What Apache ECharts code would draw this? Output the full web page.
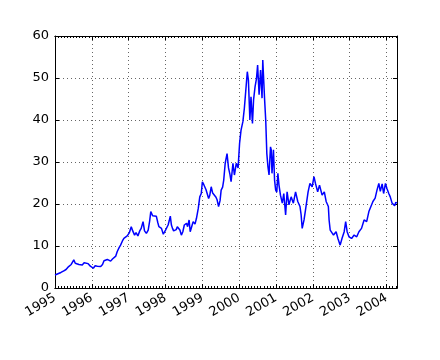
<!DOCTYPE html>
<html>
<head>
<meta charset="utf-8">
<script src="https://cdn.jsdelivr.net/npm/echarts@6/dist/echarts.min.js"></script>
<style>
html,body{margin:0;padding:0;background:#fff;}
#chart{width:440px;height:360px;}
</style>
</head>
<body>
<div id="chart"></div>
<script>
// Dates as decimal years
var years = [
1995.00,1995.08,1995.16,1995.24,1995.30,1995.37,1995.44,1995.51,1995.55,1995.60,1995.65,1995.69,1995.74,1995.79,1995.83,1995.90,1995.96,
1996.04,1996.09,1996.15,1996.20,1996.24,1996.29,1996.33,1996.38,1996.42,1996.47,1996.51,1996.56,1996.60,1996.65,1996.69,1996.74,1996.78,1996.83,1996.87,1996.92,1996.96,
1997.02,1997.07,1997.11,1997.16,1997.20,1997.25,1997.30,1997.34,1997.39,1997.43,1997.48,1997.53,1997.57,1997.60,1997.65,1997.69,1997.75,1997.79,1997.82,1997.86,1997.89,1997.94,
1998.00,1998.04,1998.07,1998.10,1998.13,1998.16,1998.19,1998.22,1998.25,1998.29,1998.32,1998.35,1998.39,1998.43,1998.47,1998.51,1998.57,1998.60,1998.64,1998.67,1998.71,1998.75,1998.80,1998.84,1998.89,1998.93,1998.97,
1999.00,1999.04,1999.07,1999.10,1999.13,1999.17,1999.20,1999.24,1999.28,1999.33,1999.37,1999.40,1999.44,1999.48,1999.51,1999.55,1999.58,1999.62,1999.67,1999.71,1999.75,1999.78,1999.83,1999.87,1999.92,1999.97,
2000.01,2000.05,2000.10,2000.14,2000.17,2000.22,2000.25,2000.29,2000.32,2000.36,2000.39,2000.43,2000.47,2000.50,2000.54,2000.58,2000.62,2000.64,2000.67,2000.69,2000.72,2000.75,2000.78,2000.81,2000.85,2000.87,2000.89,2000.93,2000.96,2000.99,
2001.02,2001.05,2001.08,2001.12,2001.17,2001.21,2001.26,2001.30,2001.35,2001.41,2001.47,2001.53,2001.59,2001.65,2001.68,2001.71,2001.76,2001.80,2001.87,2001.92,2001.98,
2002.03,2002.07,2002.13,2002.18,2002.25,2002.31,2002.36,2002.42,2002.44,2002.47,2002.52,2002.56,2002.63,2002.68,2002.74,2002.79,2002.85,2002.89,2002.93,2002.98,
2003.05,2003.12,2003.19,2003.25,2003.32,2003.39,2003.46,2003.52,2003.57,2003.63,2003.69,2003.74,2003.79,2003.83,2003.88,2003.92,2003.97,
2004.01,2004.06,2004.10,2004.15,2004.18,2004.22,2004.25,2004.28
];
var prices = [
3.1,3.4,3.7,4.1,4.4,5.1,5.6,6.7,5.9,6.1,5.6,5.9,5.5,6.0,6.4,5.8,5.2,
4.7,5.3,5.2,4.8,5.1,5.6,6.5,6.9,6.8,6.5,6.4,6.9,7.3,7.6,8.7,9.6,10.2,11.2,11.8,12.0,12.4,
13.2,14.6,13.6,12.6,13.2,12.4,13.6,14.2,15.8,13.6,13.0,13.8,16.0,18.2,17.2,17.6,17.1,15.6,14.6,14.8,14.2,12.8,
13.8,14.2,15.0,16.0,17.1,15.0,14.2,13.6,13.8,13.9,14.6,15.0,13.8,12.6,13.4,15.0,15.4,14.6,16.2,13.4,14.6,15.8,15.2,16.6,19.0,21.7,22.5,
25.3,24.6,25.0,23.4,22.5,21.3,22.0,24.1,22.6,23.0,21.6,21.0,19.4,20.8,23.3,24.0,25.7,29.7,32.0,28.6,27.0,25.3,29.7,26.9,29.7,28.6,
34.4,37.6,39.6,42.8,43.2,51.5,49.5,40.0,45.5,39.2,44.8,47.9,49.9,53.1,46.0,51.9,45.2,54.3,54.7,44.8,40.0,32.0,28.9,26.9,33.6,32.9,27.3,32.9,25.7,23.3,
22.8,27.3,24.5,22.1,20.2,22.5,17.4,22.9,19.8,21.7,20.2,22.9,20.6,19.4,17.5,14.2,16.2,18.6,22.9,24.9,24.1,
26.5,24.9,22.9,24.5,22.1,22.9,20.6,19.4,16.2,13.8,14.0,12.6,13.4,11.8,10.2,11.8,13.4,15.8,13.4,12.2,
11.8,12.6,12.2,13.4,14.2,16.2,15.8,18.2,17.8,20.6,21.4,23.3,24.9,23.0,24.8,22.5,24.9,
23.7,22.5,21.7,20.2,20.6,19.6,20.4,20.2
];
var startYear = 1995;
var xMaxMonths = 111.4;
var yTicks = [0, 10, 20, 30, 40, 50, 60];

var pts = years.map(function (y, i) { return [(y - startYear) * 12, prices[i]]; });

var font = 'DejaVu Sans';
var gridLine = { show: true, lineStyle: { color: 'rgba(0,0,0,0.6)', width: 1, type: [1, 3] } };
function xAx(pos, interval, tickLen, labels, split) {
  return {
    type: 'value', position: pos, min: 0, max: xMaxMonths, interval: interval,
    axisLine: { show: true, onZero: false, lineStyle: { color: '#000', width: 1 } },
    axisTick: { show: true, inside: true, length: tickLen, lineStyle: { color: '#000', width: 1 } },
    axisLabel: labels ? {
      show: true, rotate: 30, margin: 9, color: '#000', fontSize: 13, fontFamily: font,
      showMaxLabel: false,
      formatter: function (v) { return String(startYear + Math.round(v / 12)); }
    } : { show: false },
    splitLine: split ? gridLine : { show: false }
  };
}
function yAx(pos, labels, split) {
  return {
    type: 'value', position: pos, min: yTicks[0], max: yTicks[yTicks.length - 1], interval: 10,
    axisLine: { show: true, onZero: false, lineStyle: { color: '#000', width: 1 } },
    axisTick: { show: true, inside: true, length: 4, lineStyle: { color: '#000', width: 1 } },
    axisLabel: labels ? { show: true, margin: 6, color: '#000', fontSize: 13, fontFamily: font } : { show: false },
    splitLine: split ? gridLine : { show: false }
  };
}
var chart = echarts.init(document.getElementById('chart'), null, { renderer: 'canvas' });
chart.setOption({
  animation: false,
  backgroundColor: '#fff',
  grid: { left: 55, top: 36, right: 43, bottom: 72, containLabel: false },
  xAxis: [
    xAx('bottom', 12, 4, true, true),
    xAx('bottom', 1, 2, false, false),
    xAx('top', 12, 4, false, false),
    xAx('top', 1, 2, false, false)
  ],
  yAxis: [ yAx('left', true, true), yAx('right', false, false) ],
  series: [{
    type: 'line', xAxisIndex: 0, yAxisIndex: 0, data: pts,
    showSymbol: false, symbol: 'none',
    lineStyle: { color: '#0000ff', width: 1.5 }
  }]
});
</script>
</body>
</html>
